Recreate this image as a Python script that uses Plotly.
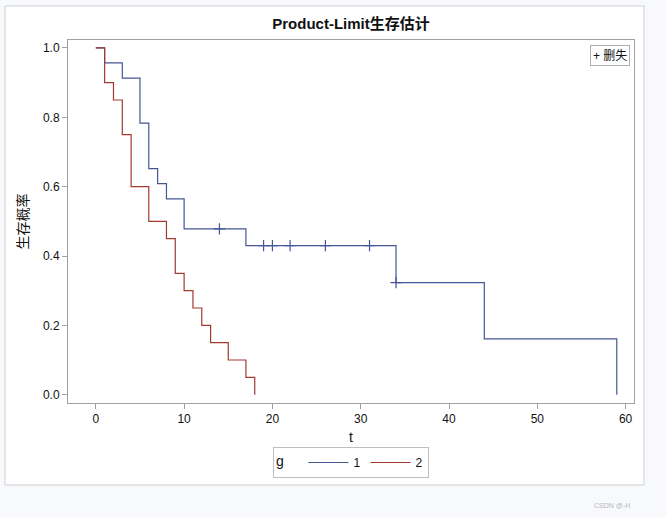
import plotly.graph_objects as go

# ===== KM step data =====
t_g1 = [0, 1, 3, 5, 6, 7, 8, 10, 17, 34, 44, 59]
s_g1 = [1.0, 0.957, 0.913, 0.783, 0.652, 0.609, 0.565, 0.478, 0.430, 0.323, 0.161, 0.0]

t_g2 = [0, 1, 2, 3, 4, 6, 8, 9, 10, 11, 12, 13, 15, 17, 18]
s_g2 = [1.0, 0.90, 0.85, 0.75, 0.60, 0.50, 0.45, 0.35, 0.30, 0.25, 0.20, 0.15, 0.10, 0.05, 0.0]

# censored obs (group 1 only)
t_cens = [14, 19, 20, 22, 26, 31, 34]
s_cens = [0.478, 0.430, 0.430, 0.430, 0.430, 0.430, 0.323]

x_ticks = [0, 10, 20, 30, 40, 50, 60]
y_ticks = [0.0, 0.2, 0.4, 0.6, 0.8, 1.0]

blue = '#445694'
red = '#A23A2E'
grey = '#a0a0a0'
bg = '#f7f9fd'
FONT = 'Liberation Sans, Noto Sans CJK SC, sans-serif'

fig = go.Figure()
fig.add_trace(go.Scatter(x=t_g1, y=s_g1, mode='lines', line_shape='hv', name='1',
                         line=dict(color=blue, width=1.2)))
fig.add_trace(go.Scatter(x=t_g2, y=s_g2, mode='lines', line_shape='hv', name='2',
                         line=dict(color=red, width=1.2)))
fig.add_trace(go.Scatter(x=t_cens, y=s_cens, mode='markers', showlegend=False,
                         marker=dict(symbol='cross-thin', size=8,
                                     line=dict(color=blue, width=1.2))))

# outer white panel (the SAS graph frame)
fig.add_shape(type='rect', xref='paper', yref='paper', layer='below',
              x0=(5 - 68) / 566, x1=(644 - 68) / 566,
              y0=(403 - 485) / 363, y1=(403 - 6) / 363,
              fillcolor='white', line=dict(color='#cfcfcf', width=1))

# "+ 删失" inset legend
fig.add_annotation(text='+ 删失', xref='paper', yref='paper', x=1, y=1,
                   xanchor='right', yanchor='top', xshift=-4, yshift=-5,
                   showarrow=False, font=dict(family=FONT, size=12, color='#111'),
                   bordercolor='#b0b0b0', borderwidth=1, borderpad=2, bgcolor='white')

# watermark
fig.add_annotation(text='CSDN @-H', xref='paper', yref='paper',
                   x=(632 - 68) / 566, y=(403 - 505) / 363,
                   xanchor='right', yanchor='middle', showarrow=False,
                   font=dict(family=FONT, size=7, color='#b8b8b8'))

fig.update_layout(
    width=666, height=517,
    margin=dict(l=68, r=32, t=40, b=114),
    paper_bgcolor=bg, plot_bgcolor='white',
    font=dict(family=FONT, size=12, color='#111'),
    title=dict(text='<b>Product-Limit生存估计</b>', x=0.5, xref='paper',
               y=1 - 24 / 517, yref='container', yanchor='middle',
               font=dict(family=FONT, size=15, color='#111')),
    legend=dict(orientation='h', x=0.5, xanchor='center', y=(403 - 447) / 363, yanchor='top',
                title=dict(text='g   ', side='left'), bordercolor='#c0c0c0', borderwidth=1,
                bgcolor='white', font=dict(size=12), itemwidth=40, tracegroupgap=0),
)
fig.update_xaxes(range=[-3.15, 60.95], tickvals=x_ticks, ticks='outside', ticklen=5,
                 tickcolor=grey, showline=True, linecolor=grey, linewidth=1, mirror=True,
                 showgrid=False, zeroline=False,
                 title=dict(text='t', standoff=6))
fig.update_yaxes(range=[-0.024, 1.023], tickvals=y_ticks, tickformat='.1f', ticks='outside',
                 ticklen=5, tickcolor=grey, showline=True, linecolor=grey, linewidth=1,
                 mirror=True, showgrid=False, zeroline=False,
                 title=dict(text='生存概率', standoff=11))

fig.write_html("out.html", config={'displayModeBar': False},
               post_script="document.body.style.margin='0';document.body.style.background='%s';" % bg)
